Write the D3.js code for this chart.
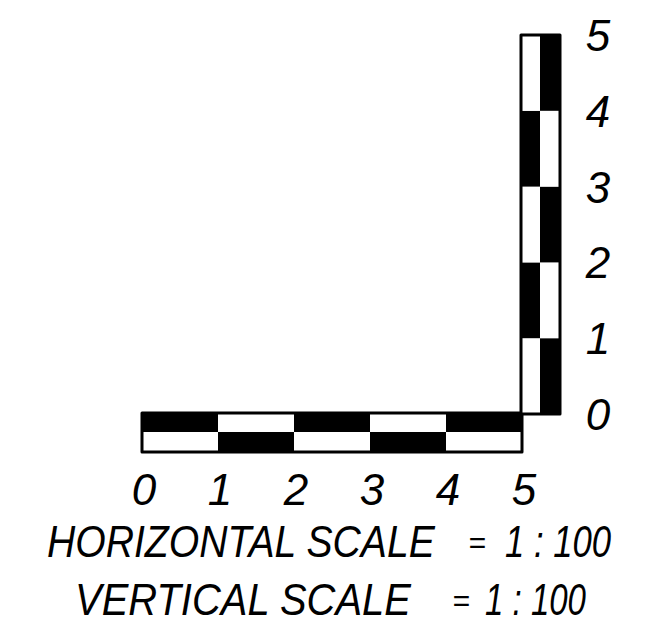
<!DOCTYPE html>
<html>
<head>
<meta charset="utf-8">
<script src="https://cdn.jsdelivr.net/npm/d3@7"></script>
<style>
  body { margin: 0; background: #fff; }
  text { font-family: "Liberation Sans", Arial, sans-serif; font-style: italic; fill: #000; }
</style>
</head>
<body>
<script>
// Scale bar data
var ticks = [0, 1, 2, 3, 4, 5];
var units = [0, 1, 2, 3, 4];
var titleNames = ["HORIZONTAL SCALE", "VERTICAL SCALE"];
var titleRatio = ["1 : 100", "1 : 100"];

var width = 658, height = 623;
var svg = d3.select("body").append("svg").attr("width", width).attr("height", height);

var x = d3.scaleLinear().domain([0, 5]).range([142, 522]);
var y = d3.scaleLinear().domain([0, 5]).range([414, 35]);

// horizontal bar: two rows, checkered
var hTop = 413, hMid = 432, hBot = 452;
var hg = svg.append("g");
hg.selectAll(".ht").data(units).enter().append("rect")
    .attr("x", d => x(d)).attr("y", hTop)
    .attr("width", d => x(d + 1) - x(d)).attr("height", hMid - hTop)
    .style("fill", d => d % 2 == 0 ? "#000" : "#fff");
hg.selectAll(".hb").data(units).enter().append("rect")
    .attr("x", d => x(d)).attr("y", hMid)
    .attr("width", d => x(d + 1) - x(d)).attr("height", hBot - hMid)
    .style("fill", d => d % 2 == 0 ? "#fff" : "#000");
hg.append("rect").attr("x", x(0)).attr("y", hTop)
    .attr("width", x(5) - x(0)).attr("height", hBot - hTop)
    .style("fill", "none").style("stroke", "#000").style("stroke-width", 3)
    .style("stroke-linejoin", "round");

// vertical bar: two columns, checkered
var vL = 521, vM = 540, vR = 560;
var vg = svg.append("g");
vg.selectAll(".vl").data(units).enter().append("rect")
    .attr("x", vL).attr("y", d => y(d + 1))
    .attr("width", vM - vL).attr("height", d => y(d) - y(d + 1))
    .style("fill", d => d % 2 == 0 ? "#fff" : "#000");
vg.selectAll(".vr").data(units).enter().append("rect")
    .attr("x", vM).attr("y", d => y(d + 1))
    .attr("width", vR - vM).attr("height", d => y(d) - y(d + 1))
    .style("fill", d => d % 2 == 0 ? "#000" : "#fff");
vg.append("rect").attr("x", vL).attr("y", y(5))
    .attr("width", vR - vL).attr("height", y(0) - y(5))
    .style("fill", "none").style("stroke", "#000").style("stroke-width", 3)
    .style("stroke-linejoin", "round");

// tick labels
svg.selectAll(".xl").data(ticks).enter().append("text")
    .attr("x", d => x(d) + 2).attr("y", 505)
    .attr("text-anchor", "middle").style("font-size", "44px")
    .text(d => d);
svg.selectAll(".yl").data(ticks).enter().append("text")
    .attr("x", 598).attr("y", d => y(d) + 16)
    .attr("text-anchor", "middle").style("font-size", "44px")
    .text(d => d);

// squeeze a text horizontally so it spans [x0, x0 + w]
function fitText(str, x0, w, base, size) {
  var g = svg.append("g");
  var t = g.append("text").attr("x", 0).attr("y", base)
      .style("font-size", size + "px").text(str);
  var len = t.node().getComputedTextLength();
  g.attr("transform", "translate(" + x0 + ",0) scale(" + (w / len) + ",1)");
}

// scale notes
var notes = [
  {x0: 47, w0: 388, eq: 477, x1: 505, w1: 106, base: 557},
  {x0: 75, w0: 336, eq: 461, x1: 485, w1: 101, base: 615}
];
notes.forEach(function(n, i) {
  fitText(titleNames[i], n.x0, n.w0, n.base, 44);
  svg.append("text").attr("x", n.eq).attr("y", n.base - 4)
      .attr("text-anchor", "middle").style("font-size", "30px")
      .text("=");
  fitText(titleRatio[i], n.x1, n.w1, n.base, 44);
});
</script>
</body>
</html>
